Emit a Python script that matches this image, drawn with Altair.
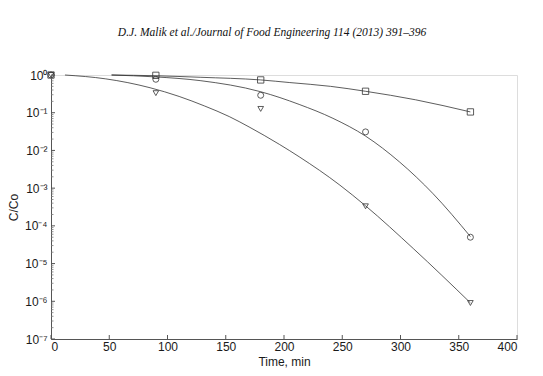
import json
import altair as alt
import pandas as pd

# ---- measured points ----
t_points = [0, 90, 180, 270, 360]
square_vals = [1.0, 0.98, 0.74, 0.37, 0.105]
circle_vals = [1.0, 0.77, 0.29, 0.031, 5.0e-5]
triangle_vals = [1.0, 0.33, 0.126, 3.3e-4, 9.0e-7]

# ---- fitted curves ----
sq_fit_t = [52, 90, 128, 180, 205, 240, 270, 313, 360]
sq_fit_v = [1.0, 0.955, 0.87, 0.74, 0.63, 0.50, 0.37, 0.22, 0.105]

ci_fit_t = [52, 90, 128, 180, 213, 242, 270, 299, 328, 360]
ci_fit_v = [1.0, 0.89, 0.71, 0.36, 0.166, 0.071, 0.024, 5.0e-3, 7.1e-4, 5.2e-5]

tr_fit_t = [12, 47, 85, 110, 132, 153, 170, 196, 213, 248, 270, 311, 360]
tr_fit_v = [1.0, 0.79, 0.46, 0.27, 0.15, 0.079, 0.042, 0.0145, 6.8e-3, 1.2e-3,
            3.4e-4, 2.5e-5, 9.1e-7]

# ---- axis ticks ----
x_ticks = [0, 50, 100, 150, 200, 250, 300, 350, 400]
y_major = [1e-7, 1e-6, 1e-5, 1e-4, 1e-3, 1e-2, 1e-1, 1e0]
y_labels = ["10⁻⁷", "10⁻⁶", "10⁻⁵", "10⁻⁴", "10⁻³", "10⁻²", "10⁻¹", "10⁰"]
y_minor = [m * d for d in y_major[:-1] for m in range(2, 10)]

title_text = "D.J. Malik et al./Journal of Food Engineering 114 (2013) 391–396"

W, H = 466, 264
INK = "#333333"

xs = alt.Scale(domain=[0, 400], nice=False, zero=False)
ys = alt.Scale(type="log", domain=[1e-7, 1], nice=False)

label_expr = "{}[round(log(datum.value)/LN10) + 7]".format(json.dumps(y_labels, ensure_ascii=False))

common = dict(ticks=False, tickSize=0, grid=False, labelFontSize=12, titleFontSize=12,
              titleFontWeight="normal", labelFont="Liberation Sans", titleFont="Liberation Sans",
              domainColor="#555555", labelColor="#1a1a1a", titleColor="#1a1a1a")
x_axis = alt.Axis(values=x_ticks, title="Time, min", labelPadding=2, titlePadding=4, **common)
y_axis = alt.Axis(values=y_major, labelExpr=label_expr, title="C/Co", labelPadding=4,
                  titlePadding=4, **common)

def pts(vals):
    return pd.DataFrame({"t": t_points, "v": vals})

def fit(ts, vs):
    return pd.DataFrame({"t": ts, "v": vs})

base_enc = dict(x=alt.X("t:Q", scale=xs, axis=x_axis), y=alt.Y("v:Q", scale=ys, axis=y_axis))

lines = []
for ts, vs in [(sq_fit_t, sq_fit_v), (ci_fit_t, ci_fit_v), (tr_fit_t, tr_fit_v)]:
    lines.append(alt.Chart(fit(ts, vs)).mark_line(color=INK, strokeWidth=0.8,
                                                   interpolate="monotone").encode(**base_enc))

points = []
for vals, shape, size in [(square_vals, "square", 40), (circle_vals, "circle", 36),
                          (triangle_vals, "triangle-down", 32)]:
    points.append(alt.Chart(pts(vals)).mark_point(shape=shape, filled=False, size=size,
                                                  color=INK, strokeWidth=0.8, opacity=1)
                  .encode(x=alt.X("t:Q", scale=xs), y=alt.Y("v:Q", scale=ys)))

xtick_layer = alt.Chart(pd.DataFrame({"t": x_ticks})).mark_rule(color="#555555", strokeWidth=1).encode(
    x=alt.X("t:Q", scale=xs), y=alt.value(H), y2=alt.value(H - 4))
ymaj_layer = alt.Chart(pd.DataFrame({"v": y_major})).mark_rule(color="#555555", strokeWidth=1).encode(
    y=alt.Y("v:Q", scale=ys), x=alt.value(0), x2=alt.value(4))
ymin_layer = alt.Chart(pd.DataFrame({"v": y_minor})).mark_rule(color="#777777", strokeWidth=0.8).encode(
    y=alt.Y("v:Q", scale=ys), x=alt.value(0), x2=alt.value(2.5))

chart = alt.layer(*lines, *points, xtick_layer, ymaj_layer, ymin_layer).properties(
    width=W, height=H,
    autosize=alt.AutoSizeParams(type="none"),
    padding={"left": 51, "top": 75, "right": 26, "bottom": 37},
    title=alt.TitleParams(title_text, font="Liberation Serif", fontStyle="italic", fontSize=11.5,
                          fontWeight="normal", color="#111111", offset=31, dx=-12, anchor="middle"),
).configure_view(stroke=None).configure(background="white")

chart.save("out.html", embed_options={"renderer": "svg", "actions": False})
